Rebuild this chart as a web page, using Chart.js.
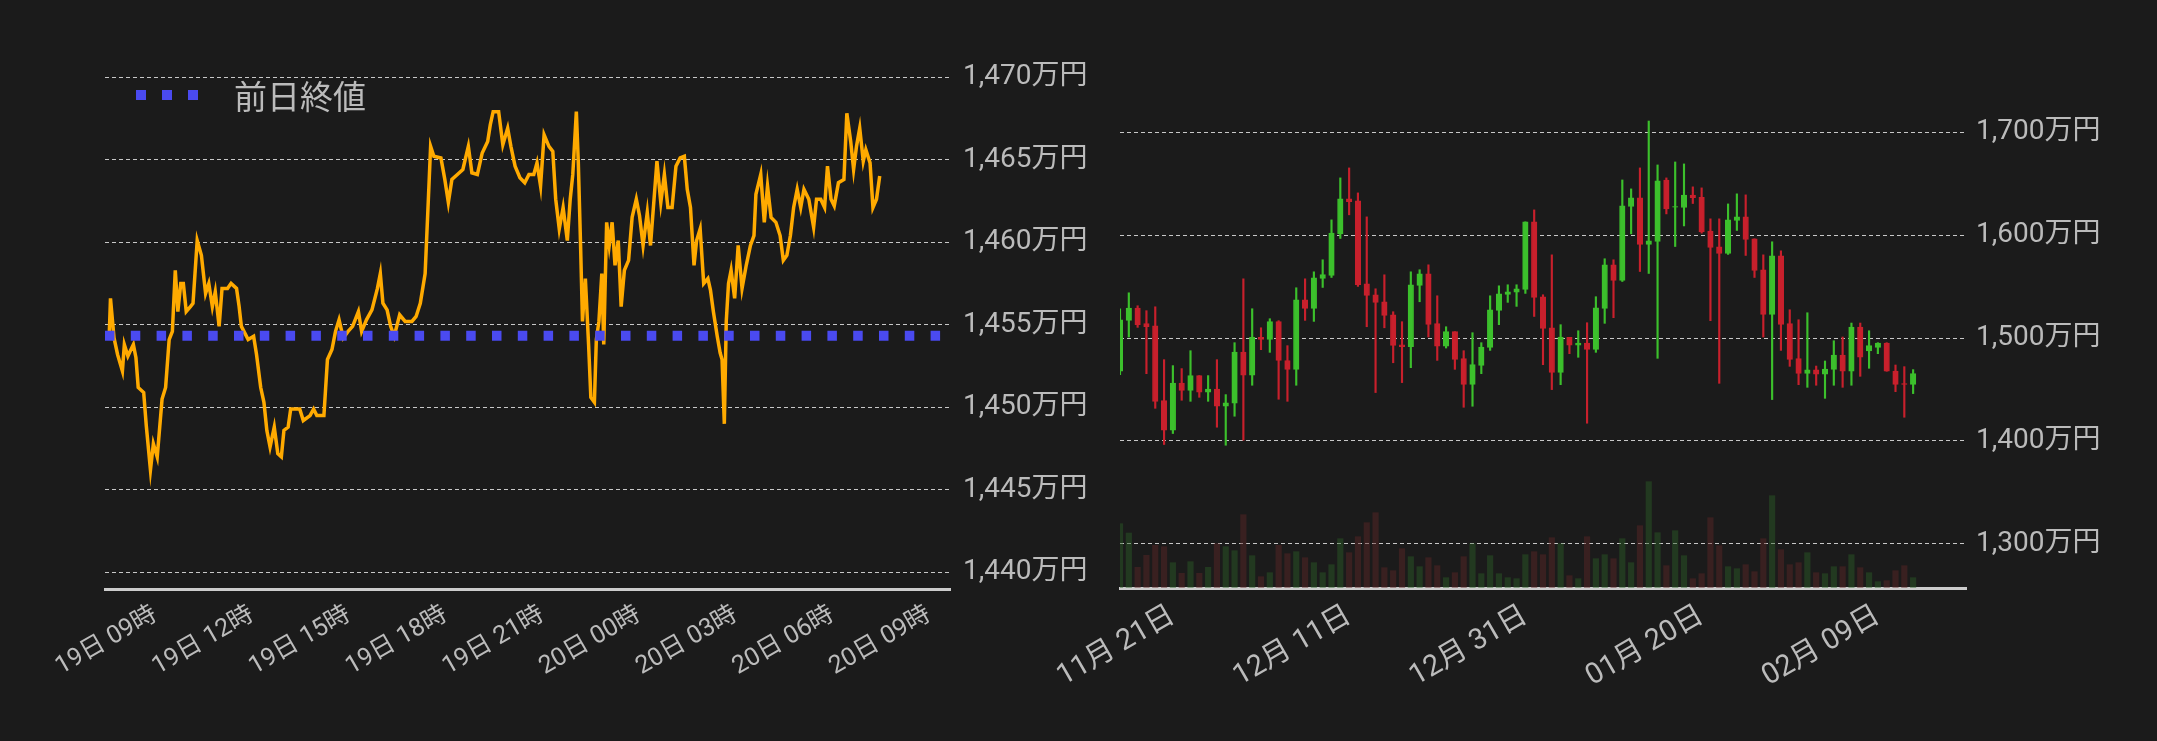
<!DOCTYPE html>
<html><head><meta charset="utf-8">
<script src="https://cdn.jsdelivr.net/npm/chart.js@4"></script>
<style>
html,body{margin:0;padding:0;background:#1b1b1b;width:2157px;height:741px;overflow:hidden}
#c1{position:absolute;left:0;top:0}
#c2{position:absolute;left:980px;top:0}
#leg{position:absolute;left:136px;top:72px;height:46px;display:flex;align-items:center;font-family:Roboto,'Noto Sans CJK JP';font-size:33px;color:#bbb}
#leg span.sq{display:inline-block;width:10px;height:10px;background:#4a4af0;margin-right:16px}
</style></head><body>
<canvas id="c1" width="1130" height="741"></canvas>
<canvas id="c2" width="1177" height="741"></canvas>
<div id="leg"><span class="sq"></span><span class="sq"></span><span class="sq"></span><span style="margin-left:20px">前日終値</span></div>
<script>
// ---- left chart data (hours from 19日 09時) ----
const times=[-1.43,-1.39,-1.28,-1.17,-1.02,-0.96,-0.85,-0.68,-0.60,-0.53,-0.36,-0.28,-0.15,-0.06,0.06,0.21,0.32,0.43,0.53,0.62,0.70,0.79,0.87,0.96,1.09,1.17,1.30,1.43,1.56,1.66,1.77,1.86,1.98,2.07,2.24,2.35,2.52,2.60,2.67,2.88,3.05,3.14,3.27,3.37,3.46,3.56,3.69,3.80,3.91,3.99,4.12,4.20,4.48,4.59,4.80,4.91,5.01,5.23,5.34,5.48,5.59,5.70,5.83,5.98,6.12,6.30,6.40,6.55,6.72,6.89,6.98,7.06,7.19,7.30,7.41,7.58,7.75,7.96,8.09,8.22,8.37,8.47,8.54,8.64,8.86,8.98,9.09,9.20,9.37,9.54,9.71,9.82,9.99,10.14,10.31,10.39,10.48,10.65,10.78,10.93,11.03,11.16,11.31,11.46,11.59,11.74,11.84,11.95,12.06,12.21,12.33,12.42,12.53,12.65,12.78,12.87,12.95,13.06,13.12,13.19,13.25,13.34,13.44,13.51,13.62,13.68,13.76,13.85,13.91,14.00,14.08,14.17,14.26,14.36,14.45,14.55,14.68,14.79,14.92,15.02,15.13,15.26,15.36,15.47,15.56,15.68,15.79,15.90,16.03,16.15,16.28,16.41,16.50,16.60,16.71,16.79,16.90,17.01,17.14,17.22,17.31,17.43,17.52,17.58,17.65,17.71,17.78,17.86,17.97,18.08,18.20,18.33,18.46,18.57,18.63,18.78,18.89,18.99,19.10,19.25,19.38,19.48,19.59,19.70,19.80,19.91,20.02,20.12,20.27,20.42,20.51,20.64,20.76,20.85,20.96,21.06,21.19,21.36,21.45,21.57,21.66,21.75,21.85,21.96,22.04,22.17,22.26,22.37,22.47];
const prices=[1454.3,1456.6,1454.2,1453.2,1452.2,1453.8,1453.1,1453.8,1453.0,1451.2,1450.9,1448.9,1446.2,1447.8,1447.0,1450.5,1451.2,1454.1,1454.6,1458.3,1455.8,1457.5,1457.5,1455.8,1456.1,1456.3,1460.1,1459.2,1456.9,1457.5,1456.1,1457.0,1454.9,1457.2,1457.2,1457.5,1457.2,1456.1,1454.9,1454.1,1454.3,1453.2,1451.2,1450.3,1448.6,1447.6,1448.8,1447.2,1447.0,1448.6,1448.8,1449.9,1449.9,1449.2,1449.5,1449.9,1449.5,1449.5,1452.9,1453.5,1454.6,1455.3,1454.2,1454.6,1454.9,1455.8,1454.6,1455.3,1455.9,1457.2,1458.1,1456.3,1455.9,1454.9,1454.3,1455.6,1455.2,1455.2,1455.5,1456.3,1458.1,1462.6,1465.8,1465.2,1465.1,1463.8,1462.4,1463.8,1464.1,1464.4,1465.8,1464.2,1464.1,1465.4,1466.1,1467.1,1467.9,1467.9,1465.9,1466.9,1465.8,1464.6,1463.9,1463.6,1464.1,1464.1,1464.8,1463.4,1466.5,1465.8,1465.5,1462.6,1460.8,1462.1,1460.1,1462.6,1464.1,1467.9,1464.9,1459.9,1455.2,1457.8,1453.8,1450.6,1450.3,1454.1,1455.2,1458.1,1453.8,1461.2,1459.8,1461.2,1458.6,1460.1,1456.1,1458.3,1458.9,1461.5,1462.6,1461.6,1459.8,1461.8,1459.8,1462.6,1464.9,1462.4,1464.1,1462.1,1462.1,1464.6,1465.1,1465.2,1463.2,1462.1,1458.6,1460.1,1460.8,1457.5,1457.8,1457.1,1455.8,1454.3,1453.3,1452.9,1449.0,1455.2,1457.5,1458.3,1456.6,1459.8,1457.2,1458.6,1459.8,1460.4,1462.9,1464.1,1461.2,1463.4,1461.5,1461.2,1460.4,1458.9,1459.2,1460.4,1462.1,1463.2,1462.1,1463.2,1462.6,1460.9,1462.6,1462.6,1462.1,1464.6,1462.6,1462.2,1463.6,1463.8,1467.8,1466.1,1464.4,1465.8,1466.9,1464.9,1465.6,1464.8,1462.1,1462.6,1464.0];
const prevClose=1454.34;
const xTickHours=[0,3,6,9,12,15,18,21,24];
const xTickLabels=['19日 09時','19日 12時','19日 15時','19日 18時','19日 21時','20日 00時','20日 03時','20日 06時','20日 09時'];
const yTicksLeft=[1440,1445,1450,1455,1460,1465,1470];

// ---- right chart data (daily from 11月15日) ----
const openP=[1467.7,1517.2,1529.2,1514,1512,1439.2,1410.4,1456.3,1449.2,1463.5,1447.3,1450.5,1433.7,1436.6,1486.4,1463.8,1500.7,1498.7,1515.9,1478,1469.6,1537.2,1528.8,1558,1560.9,
1601.3,1635.3,1633.4,1552.8,1542.1,1535.3,1522.7,1493.5,1491.6,1551.2,1562.5,1514,1492,1506.2,1480,1455,1473.5,1491,1526.9,1542.4,1544.7,1547.3,1613,1540.2,
1510,1466.7,1500.7,1493,1495.2,1489,1528.8,1571.2,1556,1627.9,1636.3,1591,1593.9,1653.7,1627.2,1626.9,1638.9,1636.9,1603.9,1588.7,1582.2,1614.3,1617.8,1596.5,1566.4,
1523,1580,1514,1480,1465.7,1469,1464.8,1469.6,1483.5,1467.7,1510.7,1487.4,1491,1495.2,1468,1455.7,1455];
const closeP=[1517.8,1529.2,1513,1511,1438.5,1410.4,1456.3,1449.2,1463.5,1447.3,1450.5,1433.7,1437,1486.4,1463.8,1500.7,1498.7,1515.9,1478.3,1469.6,1537.2,1528.8,1558.6,1561.6,1602,
1635.3,1632.7,1551.8,1541.5,1534.7,1522,1492.9,1491.6,1551.8,1562.5,1513.3,1492,1506.2,1479.3,1455,1474.1,1491.3,1527.5,1543.1,1545,1547.9,1613,1539.5,1509.4,
1466.7,1501,1493,1495.2,1489,1529.5,1571.2,1556,1628.5,1636.3,1591,1594.5,1652.8,1625.6,1627.9,1638.9,1636.6,1603.3,1588,1582.2,1614.9,1617.8,1595.8,1565.7,1523,
1580,1513.3,1479.3,1465.7,1469,1464.8,1469.9,1483.5,1467.7,1510.7,1481.3,1492.6,1495.2,1467.7,1455,1455,1465.4];
const highP=[1528.5,1544,1531.4,1526.6,1530.4,1479,1473.2,1470.3,1487.7,1463.5,1463.5,1479,1445,1495.5,1557.6,1528.5,1510,1518.8,1516.9,1492.6,1548.9,1557.6,1564.4,1576.1,1614.9,
1655.7,1665.4,1641.1,1617.8,1547.9,1561.5,1525.6,1515.9,1564.4,1566.4,1571.2,1541.1,1511,1506.2,1487.7,1505.2,1495.5,1541.1,1550.8,1551.8,1551.8,1613,1624.6,1542.1,
1580.9,1513,1500.7,1507.1,1514.9,1540.2,1577.1,1576.1,1653.7,1645,1665.4,1711,1668.3,1655.7,1671.2,1669.3,1647,1646,1615.9,1615.9,1630.4,1640.2,1639.2,1596.5,1580.9,
1593.6,1584.8,1527.5,1517.8,1524.6,1472.8,1477.7,1497.4,1501,1514.6,1514.6,1507.1,1495.5,1495.5,1473.8,1472.2,1469.3];
const lowP=[1464.4,1501,1510.4,1465.4,1431.7,1396.5,1407.2,1439.5,1438.5,1442.4,1438.5,1413.3,1395.8,1424,1400.7,1454.1,1488.7,1486.1,1440.5,1438.5,1454.1,1517.2,1516.2,1549.2,1558.9,
1596.8,1619.8,1550.2,1511,1447,1510,1476,1456.7,1471.2,1535.3,1501,1478.3,1490.3,1469.6,1432.7,1433.7,1465.4,1488,1513,1534.7,1530.8,1543.4,1521,1474.1,
1449.9,1454.7,1484.8,1481.3,1417.2,1486.1,1514.3,1519.8,1555,1601.3,1564.7,1562.8,1480.3,1620.7,1589,1609,1630.8,1602,1516.9,1456,1581.3,1604.6,1580.3,1558.9,1501,
1440.2,1488,1472.5,1454.7,1452.1,1454.1,1441.4,1454.1,1452.1,1454.1,1462.8,1470.6,1484.8,1467.7,1447.9,1423,1446];
const volume=[193,165,62,98,128,124,76,44,79,44,62,133,124,112,220,97,34,46,128,103,109,91,76,46,70,
148,106,154,196,226,61,52,118,94,64,91,67,31,46,94,133,43,97,43,31,28,100,109,100,
151,133,37,28,154,88,100,88,148,76,187,319,166,67,172,97,28,43,211,127,64,58,70,49,148,
277,115,70,76,106,46,43,64,64,100,61,46,19,22,52,67,31];
const dateTickLabels=['11月 21日','12月 11日','12月 31日','01月 20日','02月 09日'];
const yTicksRight=[1300,1400,1500,1600,1700];
const dates=[];
{const d=new Date(2024,10,15);for(let i=0;i<97;i++){dates.push(String(d.getMonth()+1).padStart(2,'0')+'月 '+String(d.getDate()).padStart(2,'0')+'日');d.setDate(d.getDate()+1);}}

const FONT="Roboto, 'Noto Sans CJK JP', sans-serif";
Chart.defaults.font.family=FONT;
Chart.defaults.color='#bbb';
const yen=v=>v.toLocaleString('en-US')+'万円';

new Chart(document.getElementById('c1'),{
 type:'line',
 data:{datasets:[
  {data:[{x:-1.56,y:prevClose},{x:24.65,y:prevClose}],borderColor:'#4a4af0',borderWidth:10,borderDash:[9.5,16.3],borderCapStyle:'butt',pointRadius:0},
  {data:times.map((t,i)=>({x:t,y:prices[i]})),borderColor:'#ffaa00',borderWidth:3.5,pointRadius:0,tension:0}
 ]},
 options:{responsive:false,animation:false,devicePixelRatio:1,
  layout:{padding:{left:105,top:77,right:0,bottom:0}},
  plugins:{legend:{display:false},tooltip:{enabled:false}},
  scales:{
   x:{type:'linear',min:-1.56,max:24.65,
    afterBuildTicks:s=>{s.ticks=xTickHours.map(v=>({value:v}));},
    afterFit:s=>{s.height=152;},
    ticks:{autoSkip:false,minRotation:30,maxRotation:30,font:{size:25},color:'#bbb',
      callback:v=>xTickLabels[xTickHours.indexOf(v)]},
    grid:{display:false},border:{display:true,color:'#ccc',width:3}},
   y:{position:'right',min:1439,max:1470,
    afterBuildTicks:s=>{s.ticks=yTicksLeft.map(v=>({value:v}));},
    afterFit:s=>{s.width=180;},
    ticks:{padding:13,font:{size:28},color:'#bbb',callback:yen},
    grid:{color:'#c8c8c8',lineWidth:1,drawTicks:false},border:{display:false,dash:[4,3]}}
  }}
});

const up=openP.map((o,i)=>closeP[i]>=o);
const cUp='#3cc02c',cDn='#c8202c';
new Chart(document.getElementById('c2'),{
 type:'bar',
 data:{labels:dates,datasets:[
  {data:openP.map((o,i)=>[o,closeP[i]]),backgroundColor:up.map(u=>u?cUp:cDn),borderColor:up.map(u=>u?cUp:cDn),borderWidth:1,borderSkipped:false,barThickness:5.5,grouped:false,yAxisID:'y'},
  {data:lowP.map((l,i)=>[l,highP[i]]),backgroundColor:up.map(u=>u?cUp:cDn),barThickness:1.5,grouped:false,yAxisID:'y'},
  {data:volume,backgroundColor:up.map(u=>u?'rgba(45,95,40,0.45)':'rgba(95,40,40,0.45)'),barThickness:5.5,grouped:false,yAxisID:'v'}
 ]},
 options:{responsive:false,animation:false,devicePixelRatio:1,
  layout:{padding:{left:140,top:77,right:0,bottom:0}},
  plugins:{legend:{display:false},tooltip:{enabled:false}},
  scales:{
   x:{offset:false,
    afterFit:s=>{s.height=153;},
    ticks:{autoSkip:false,minRotation:30,maxRotation:30,font:{size:29},color:'#bbb',
      callback:(v,i)=>dateTickLabels.includes(dates[i])?dates[i]:''},
    grid:{display:false},border:{display:true,color:'#ccc',width:3}},
   y:{position:'right',min:1257,max:1753.8,
    afterBuildTicks:s=>{s.ticks=yTicksRight.map(v=>({value:v}));},
    afterFit:s=>{s.width=191;},
    ticks:{padding:10,font:{size:28},color:'#bbb',callback:yen},
    grid:{color:'#c8c8c8',lineWidth:1,drawTicks:false},border:{display:false,dash:[4,3]}},
   v:{display:false,min:0,max:1533}
  }}
});
</script></body></html>
